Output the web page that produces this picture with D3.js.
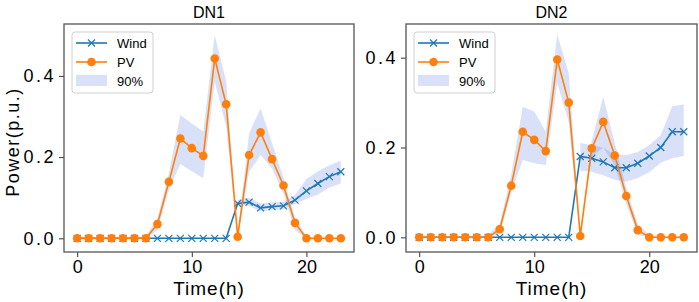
<!DOCTYPE html>
<html>
<head>
<meta charset="utf-8">
<script src="https://cdn.jsdelivr.net/npm/d3@7"></script>
<style>
  body { margin: 0; background: #fff; }
  text { font-family: "Liberation Sans", Arial, sans-serif; }
</style>
</head>
<body>
<div id="chart"></div>
<script>
// hours of the day
const hours = [0, 1, 2, 3, 4, 5, 6, 7, 8, 9, 10, 11, 12, 13, 14, 15, 16, 17, 18, 19, 20, 21, 22, 23];
const xTicks = [0, 10, 20];
const yTicks = [0.0, 0.2, 0.4];

// DN1
const dn1Wind   = [0, 0, 0, 0, 0, 0, 0, 0, 0, 0, 0, 0, 0, 0, 0.086, 0.089, 0.075, 0.078, 0.080, 0.094, 0.117, 0.135, 0.152, 0.164];
const dn1WindLo = [null, null, null, null, null, null, null, null, null, null, null, null, null, null, 0.080, 0.080, 0.066, 0.070, 0.071, 0.085, 0.097, 0.108, 0.125, 0.135];
const dn1WindHi = [null, null, null, null, null, null, null, null, null, null, null, null, null, null, 0.095, 0.100, 0.086, 0.088, 0.090, 0.106, 0.146, 0.165, 0.180, 0.191];
const dn1PV     = [0, 0, 0, 0, 0, 0, 0, 0.035, 0.139, 0.246, 0.222, 0.203, 0.443, 0.330, 0.004, 0.205, 0.261, 0.195, 0.130, 0.038, 0, 0, 0, 0];
const dn1PVLo   = [0, 0, 0, 0, 0, 0, 0, 0.020, 0.120, 0.183, 0.165, 0.148, 0.386, 0.275, 0, 0.164, 0.205, 0.172, 0.110, 0.020, 0, 0, 0, 0];
const dn1PVHi   = [0, 0, 0, 0, 0, 0, 0.005, 0.050, 0.160, 0.304, 0.283, 0.263, 0.500, 0.386, 0.010, 0.259, 0.320, 0.234, 0.150, 0.050, 0.005, 0, 0, 0];

// DN2
const dn2Wind   = [0, 0, 0, 0, 0, 0, 0, 0, 0, 0, 0, 0, 0, 0, 0.180, 0.176, 0.168, 0.155, 0.155, 0.165, 0.181, 0.200, 0.235, 0.235];
const dn2WindLo = [null, null, null, null, null, null, null, null, null, null, null, null, null, null, 0.148, 0.146, 0.138, 0.128, 0.124, 0.132, 0.145, 0.166, 0.176, 0.181];
const dn2WindHi = [null, null, null, null, null, null, null, null, null, null, null, null, null, null, 0.210, 0.205, 0.200, 0.185, 0.183, 0.190, 0.205, 0.228, 0.292, 0.296];
const dn2PV     = [0, 0, 0, 0, 0, 0, 0, 0.018, 0.115, 0.235, 0.217, 0.192, 0.396, 0.300, 0.003, 0.198, 0.257, 0.182, 0.092, 0.016, 0, 0, 0, 0];
const dn2PVLo   = [0, 0, 0, 0, 0, 0, 0, 0.008, 0.100, 0.172, 0.165, 0.161, 0.343, 0.257, 0, 0.180, 0.200, 0.160, 0.075, 0.005, 0, 0, 0, 0];
const dn2PVHi   = [0, 0, 0, 0, 0, 0, 0.005, 0.030, 0.140, 0.291, 0.280, 0.235, 0.452, 0.365, 0.010, 0.215, 0.313, 0.210, 0.110, 0.030, 0.005, 0, 0, 0];

const WIND_COLOR = "#1f77b4";
const PV_COLOR = "#ff7f0e";
const BAND_COLOR = "#4169e1";

const svg = d3.select("#chart")
    .append("svg")
    .attr("width", 699)
    .attr("height", 302);

function drawPanel(opts) {
    let x = d3.scaleLinear().domain([-1.15, 24.15]).range([opts.left, opts.right]);
    let y = d3.scaleLinear().domain(opts.yDomain).range([252, 24]);

    let g = svg.append("g");

    // 90% bands
    let area = d3.area()
        .defined(function (d) { return d.lo != null; })
        .x(function (d) { return x(d.h); })
        .y0(function (d) { return y(d.lo); })
        .y1(function (d) { return y(d.hi); });

    [[opts.windLo, opts.windHi], [opts.pvLo, opts.pvHi]].forEach(function (b) {
        let rows = hours.map(function (h, i) { return { h: h, lo: b[0][i], hi: b[1][i] }; });
        g.append("path")
            .datum(rows)
            .attr("d", area)
            .attr("fill", BAND_COLOR)
            .attr("fill-opacity", 0.2);
    });

    let line = d3.line()
        .x(function (d) { return x(d.h); })
        .y(function (d) { return y(d.v); });

    // wind line + x markers
    let windRows = hours.map(function (h, i) { return { h: h, v: opts.wind[i] }; });
    g.append("path").datum(windRows).attr("d", line)
        .attr("fill", "none").attr("stroke", WIND_COLOR).attr("stroke-width", 1.6);
    g.selectAll(".xm").data(windRows).enter().append("path")
        .attr("transform", function (d) { return `translate(${x(d.h)},${y(d.v)})`; })
        .attr("d", "M-3.5,-3.5L3.5,3.5M-3.5,3.5L3.5,-3.5")
        .attr("stroke", WIND_COLOR).attr("stroke-width", 1.2);

    // PV line + circle markers
    let pvRows = hours.map(function (h, i) { return { h: h, v: opts.pv[i] }; });
    g.append("path").datum(pvRows).attr("d", line)
        .attr("fill", "none").attr("stroke", PV_COLOR).attr("stroke-width", 1.6);
    g.selectAll(".om").data(pvRows).enter().append("circle")
        .attr("cx", function (d) { return x(d.h); })
        .attr("cy", function (d) { return y(d.v); })
        .attr("r", 4.3)
        .attr("fill", PV_COLOR);

    // axes
    let xAxis = g.append("g")
        .attr("transform", "translate(0,252)")
        .call(d3.axisBottom(x).tickValues(xTicks).tickSize(5).tickPadding(3).tickFormat(d3.format("d")));
    xAxis.select(".domain").remove();
    xAxis.selectAll("text").attr("font-size", 18).attr("fill", "#000")
        .attr("font-family", "Liberation Sans");
    xAxis.selectAll("line").attr("stroke", "#333");

    let yAxis = g.append("g")
        .attr("transform", `translate(${opts.left},0)`)
        .call(d3.axisLeft(y).tickValues(yTicks).tickSize(5).tickPadding(3).tickFormat(d3.format(".1f")));
    yAxis.select(".domain").remove();
    yAxis.selectAll("text").attr("font-size", 18).attr("fill", "#000")
        .attr("font-family", "Liberation Sans")
        .attr("letter-spacing", "2.5px");
    yAxis.selectAll("line").attr("stroke", "#333");

    // frame
    g.append("rect")
        .attr("x", opts.left).attr("y", 24)
        .attr("width", opts.right - opts.left).attr("height", 228)
        .attr("fill", "none").attr("stroke", "#555").attr("stroke-width", 1.3);

    // title
    g.append("text")
        .attr("x", (opts.left + opts.right) / 2).attr("y", 18)
        .attr("text-anchor", "middle")
        .attr("font-size", 16)
        .text(opts.title);

    // x label
    g.append("text")
        .attr("x", (opts.left + opts.right) / 2).attr("y", 295)
        .attr("text-anchor", "middle")
        .attr("font-size", 19)
        .attr("letter-spacing", "1px")
        .text("Time(h)");

    // legend
    let lx = opts.left + 8, ly = 32;
    let leg = g.append("g").attr("transform", `translate(${lx},${ly})`);
    leg.append("rect")
        .attr("width", 81).attr("height", 61).attr("rx", 3)
        .attr("fill", "#fff").attr("fill-opacity", 0.85)
        .attr("stroke", "#d0d0d0");
    leg.append("line").attr("x1", 4).attr("x2", 35).attr("y1", 11).attr("y2", 11)
        .attr("stroke", WIND_COLOR).attr("stroke-width", 1.6);
    leg.append("path").attr("d", "M16,7.5L23,14.5M16,14.5L23,7.5")
        .attr("stroke", WIND_COLOR).attr("stroke-width", 1.2);
    leg.append("line").attr("x1", 4).attr("x2", 35).attr("y1", 30).attr("y2", 30)
        .attr("stroke", PV_COLOR).attr("stroke-width", 1.6);
    leg.append("circle").attr("cx", 19.5).attr("cy", 30).attr("r", 4.3).attr("fill", PV_COLOR);
    leg.append("rect").attr("x", 4).attr("y", 43).attr("width", 31).attr("height", 11)
        .attr("fill", BAND_COLOR).attr("fill-opacity", 0.2);
    ["Wind", "PV", "90%"].forEach(function (t, i) {
        leg.append("text")
            .attr("x", 45).attr("y", 11 + i * 19 + 4.5)
            .attr("font-size", 13)
            .text(t);
    });
}

drawPanel({ left: 64, right: 354, yDomain: [-0.0337, 0.5278], title: "DN1",
    wind: dn1Wind, windLo: dn1WindLo, windHi: dn1WindHi, pv: dn1PV, pvLo: dn1PVLo, pvHi: dn1PVHi });
drawPanel({ left: 406, right: 697, yDomain: [-0.0327, 0.475], title: "DN2",
    wind: dn2Wind, windLo: dn2WindLo, windHi: dn2WindHi, pv: dn2PV, pvLo: dn2PVLo, pvHi: dn2PVHi });

// y label
svg.append("text")
    .attr("transform", "translate(19,142) rotate(-90)")
    .attr("text-anchor", "middle")
    .attr("font-size", 18)
    .attr("letter-spacing", "1.5px")
    .text("Power(p.u.)");
</script>
</body>
</html>
